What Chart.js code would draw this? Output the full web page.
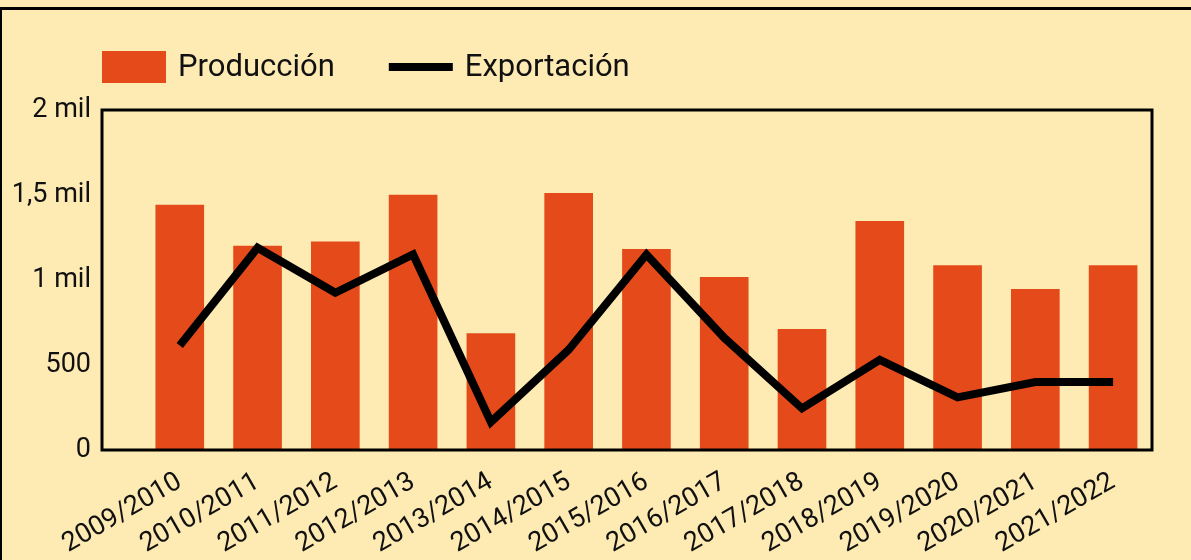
<!DOCTYPE html>
<html><head><meta charset="utf-8">
<script src="https://cdn.jsdelivr.net/npm/chart.js@4.4.1/dist/chart.umd.min.js"></script>
<style>
html,body{margin:0;padding:0;background:#FEEBB4;width:1191px;height:560px;overflow:hidden;}
#frame{position:absolute;left:0;top:7px;width:1300px;height:700px;border-top:3px solid #000;border-left:2px solid #000;box-sizing:border-box;}
#wrap{position:absolute;left:0;top:0;width:1191px;height:560px;}
</style></head><body>
<div id="frame"></div>
<div id="wrap"><canvas id="c" width="1191" height="560"></canvas></div>
<script>
const categories = ['2009/2010','2010/2011','2011/2012','2012/2013','2013/2014','2014/2015','2015/2016','2016/2017','2017/2018','2018/2019','2019/2020','2020/2021','2021/2022'];
const produccion = [1440, 1200, 1225, 1500, 685, 1510, 1180, 1015, 710, 1345, 1085, 945, 1085];
const exportacion = [615, 1190, 925, 1150, 165, 590, 1150, 660, 245, 530, 310, 400, 400];
const yTickValues = [0, 500, 1000, 1500, 2000];
const yTickLabels = ['0', '500', '1 mil', '1,5 mil', '2 mil'];
const seriesNames = ['Producción', 'Exportación'];

const BAR_COLOR = '#E54B1A';
const FONT = 'Roboto';

const plotFrame = {
  id: 'plotFrame',
  afterDatasetsDraw(chart) {
    const {ctx, chartArea: a} = chart;
    ctx.save();
    ctx.strokeStyle = '#000';
    ctx.lineWidth = 3;
    ctx.strokeRect(a.left, a.top, a.right - a.left, a.bottom - a.top);
    ctx.restore();
  }
};

const customLegend = {
  id: 'customLegend',
  afterDraw(chart) {
    const {ctx, chartArea: a} = chart;
    const cy = 67;
    const boxW = 64, boxH = 32, gap = 12, itemGap = 54;
    ctx.save();
    ctx.font = '31px ' + FONT;
    ctx.textBaseline = 'middle';
    let x = a.left;
    [0, 1].forEach(i => {
      const ds = chart.data.datasets[i];
      if (ds.type === 'bar') {
        ctx.fillStyle = ds.backgroundColor;
        ctx.fillRect(x, cy - boxH / 2, boxW, boxH);
      } else {
        ctx.strokeStyle = ds.borderColor;
        ctx.lineWidth = ds.borderWidth;
        ctx.beginPath();
        ctx.moveTo(x, cy);
        ctx.lineTo(x + boxW, cy);
        ctx.stroke();
      }
      ctx.fillStyle = '#111';
      ctx.fillText(ds.label, x + boxW + gap, cy + 1);
      x += boxW + gap + ctx.measureText(ds.label).width + itemGap;
    });
    ctx.restore();
  }
};

new Chart(document.getElementById('c'), {
  data: {
    datasets: [
      {
        type: 'bar',
        label: seriesNames[0],
        data: produccion.map((v, i) => ({x: i, y: v})),
        backgroundColor: BAR_COLOR,
        barThickness: 48,
        order: 1
      },
      {
        type: 'line',
        label: seriesNames[1],
        data: exportacion.map((v, i) => ({x: i, y: v})),
        borderColor: '#000',
        borderWidth: 8,
        borderJoinStyle: 'miter',
        borderCapStyle: 'butt',
        pointRadius: 0,
        tension: 0,
        order: 0
      }
    ]
  },
  options: {
    responsive: false,
    animation: false,
    layout: {padding: {top: 110, left: 0, right: 39, bottom: 0}},
    plugins: {legend: {display: false}, tooltip: {enabled: false}},
    scales: {
      x: {
        type: 'linear',
        offset: false,
        min: -1,
        max: 12.5,
        grid: {display: false, drawTicks: false},
        border: {display: false},
        afterBuildTicks(scale) { scale.ticks = categories.map((_, i) => ({value: i})); },
        afterFit(scale) { scale.height = 110; },
        ticks: {
          autoSkip: false,
          minRotation: 30,
          maxRotation: 30,
          padding: 16,
          color: '#111',
          font: {family: FONT, size: 27},
          callback: (v) => categories[v]
        }
      },
      y: {
        min: 0,
        max: 2000,
        grid: {display: false, drawTicks: false},
        border: {display: false},
        afterBuildTicks(scale) { scale.ticks = yTickValues.map(v => ({value: v})); },
        afterFit(scale) { scale.width = 102; },
        ticks: {
          padding: 11,
          color: '#111',
          font: {family: FONT, size: 27},
          callback: (v) => yTickLabels[yTickValues.indexOf(v)]
        }
      }
    }
  },
  plugins: [plotFrame, customLegend]
});
</script>
</body></html>
